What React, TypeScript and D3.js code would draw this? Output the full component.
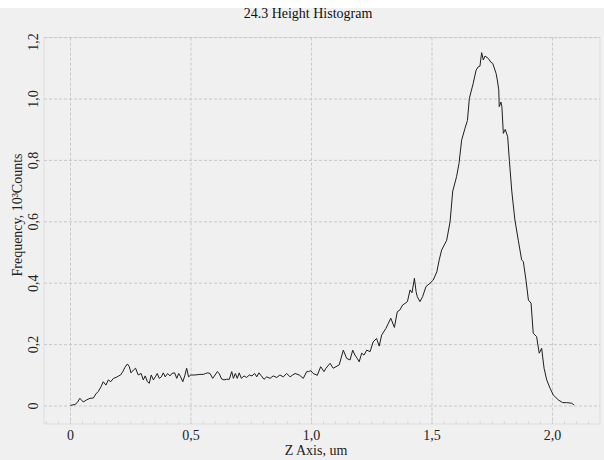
import React from "react";
import * as d3 from "d3";

const zValues: number[] = [
  0.0, 0.019, 0.028, 0.039, 0.053, 0.067, 0.081, 0.095, 0.105, 0.115, 0.127, 0.136, 0.147, 0.157, 0.167, 0.178,
  0.189, 0.2, 0.208, 0.217, 0.226, 0.236, 0.244, 0.251, 0.261, 0.27, 0.281, 0.293, 0.302, 0.31, 0.319, 0.327,
  0.335, 0.344, 0.352, 0.36, 0.368, 0.377, 0.385, 0.393, 0.403, 0.413, 0.421, 0.432, 0.441, 0.449, 0.457, 0.466,
  0.474, 0.482, 0.49, 0.499, 0.517, 0.537, 0.551, 0.561, 0.569, 0.579, 0.59, 0.6, 0.609, 0.617, 0.627, 0.637,
  0.648, 0.659, 0.669, 0.676, 0.684, 0.692, 0.7, 0.709, 0.72, 0.731, 0.742, 0.753, 0.764, 0.773, 0.782, 0.792,
  0.803, 0.814, 0.828, 0.841, 0.856, 0.869, 0.883, 0.897, 0.911, 0.922, 0.932, 0.949, 0.966, 0.98, 0.987, 0.997,
  1.007, 1.024, 1.038, 1.052, 1.06, 1.077, 1.09, 1.115, 1.132, 1.146, 1.16, 1.171, 1.18, 1.19, 1.198, 1.208,
  1.218, 1.229, 1.243, 1.256, 1.27, 1.281, 1.291, 1.309, 1.329, 1.344, 1.356, 1.367, 1.378, 1.388, 1.398, 1.409,
  1.417, 1.427, 1.434, 1.439, 1.45, 1.461, 1.475, 1.492, 1.505, 1.52, 1.53, 1.54, 1.561, 1.575, 1.586, 1.602,
  1.612, 1.623, 1.637, 1.647, 1.655, 1.671, 1.683, 1.692, 1.699, 1.706, 1.713, 1.72, 1.734, 1.744, 1.752, 1.766,
  1.771, 1.777, 1.779, 1.786, 1.79, 1.796, 1.804, 1.814, 1.821, 1.831, 1.844, 1.858, 1.872, 1.879, 1.89, 1.9,
  1.911, 1.92, 1.934, 1.945, 1.955, 1.965, 1.976, 1.99, 2.003, 2.024, 2.042, 2.058, 2.08, 2.09,
];

const frequency: number[] = [
  0.002, 0.005, 0.011, 0.025, 0.013, 0.02, 0.025, 0.026, 0.039, 0.047, 0.063, 0.079, 0.068, 0.085, 0.079, 0.09,
  0.093, 0.098, 0.101, 0.112, 0.126, 0.137, 0.128, 0.108, 0.117, 0.123, 0.101, 0.106, 0.085, 0.098, 0.079, 0.074,
  0.101, 0.085, 0.095, 0.106, 0.09, 0.095, 0.108, 0.095, 0.106, 0.098, 0.106, 0.108, 0.09, 0.106, 0.095, 0.079,
  0.098, 0.123, 0.095, 0.101, 0.101, 0.103, 0.103, 0.106, 0.108, 0.106, 0.09, 0.101, 0.112, 0.106, 0.088, 0.085,
  0.087, 0.087, 0.112, 0.09, 0.106, 0.09, 0.108, 0.09, 0.098, 0.093, 0.101, 0.098, 0.106, 0.095, 0.108, 0.098,
  0.087, 0.095, 0.09, 0.098, 0.093, 0.101, 0.095, 0.106, 0.095, 0.101, 0.106, 0.101, 0.09, 0.112, 0.112, 0.115,
  0.106, 0.1, 0.128, 0.112, 0.123, 0.139, 0.123, 0.134, 0.182, 0.155, 0.15, 0.182, 0.166, 0.155, 0.144, 0.172,
  0.166, 0.182, 0.177, 0.209, 0.22, 0.195, 0.231, 0.253, 0.286, 0.256, 0.307, 0.313, 0.329, 0.334, 0.34, 0.378,
  0.369, 0.416, 0.372, 0.356, 0.34, 0.356, 0.389, 0.4, 0.41, 0.437, 0.476, 0.508, 0.54, 0.6, 0.7, 0.747,
  0.79, 0.866, 0.905, 0.93, 1.002, 1.051, 1.094, 1.105, 1.107, 1.151, 1.127, 1.14, 1.132, 1.12, 1.116, 1.083,
  1.062, 1.03, 0.975, 0.99, 0.975, 0.888, 0.901, 0.877, 0.8, 0.7, 0.606, 0.54, 0.476, 0.47, 0.41, 0.345,
  0.335, 0.237, 0.226, 0.172, 0.188, 0.123, 0.085, 0.058, 0.036, 0.02, 0.011, 0.011, 0.009, 0.003,
];

const xTicks: number[] = [0, 0.5, 1.0, 1.5, 2.0];
const xTickLabels: string[] = ["0", "0,5", "1,0", "1,5", "2,0"];
const yTicks: number[] = [0, 0.2, 0.4, 0.6, 0.8, 1.0, 1.2];
const yTickLabels: string[] = ["0", "0,2", "0,4", "0,6", "0,8", "1,0", "1,2"];

const title = "24.3 Height Histogram";
const xTitle = "Z Axis, um";
const yTitle = "Frequency, 10³Counts";

export default function App() {
  const W = 604;
  const H = 460;
  const x = d3.scaleLinear().domain([0, 2]).range([70.5, 552.5]);
  const y = d3.scaleLinear().domain([0, 1.2]).range([406, 37.6]);
  const left = 44;
  const right = 600;
  const top = y(1.2);
  const bottom = 424;

  const pts: [number, number][] = zValues.map((z, i) => [z, frequency[i]]);
  const line = d3
    .line<[number, number]>()
    .x((d) => x(d[0]))
    .y((d) => y(d[1]));

  const minorX = d3.range(-0.1, 2.2001, 0.05).filter((v) => x(v) > left && x(v) < right);
  const font = "'Liberation Serif', 'Times New Roman', serif";

  return (
    <svg
      width={W}
      height={H}
      style={{ position: "absolute", left: 0, top: 0, background: "#fff" }}
      fontFamily={font}
    >
      <rect x={0} y={8} width={W} height={H - 8} fill="#f0f0f0" />
      <rect
        x={left}
        y={top}
        width={right - left}
        height={bottom - top}
        fill="none"
        stroke="#dedede"
        strokeWidth={1}
      />
      {minorX.map((v, i) => (
        <line key={"mx" + i} x1={x(v)} x2={x(v)} y1={bottom} y2={bottom - 3} stroke="#d8d8d8" />
      ))}
      {yTicks.map((v, i) => (
        <line
          key={"gy" + i}
          x1={left}
          x2={right}
          y1={y(v)}
          y2={y(v)}
          stroke="#c8c8c8"
          strokeDasharray="3,2"
          strokeWidth={1}
        />
      ))}
      {xTicks.map((v, i) => (
        <line
          key={"gx" + i}
          x1={x(v)}
          x2={x(v)}
          y1={top}
          y2={bottom}
          stroke="#c8c8c8"
          strokeDasharray="3,2"
          strokeWidth={1}
        />
      ))}
      <path d={line(pts) || ""} fill="none" stroke="#1e1e1e" strokeWidth={1} strokeLinejoin="round" />
      {xTicks.map((v, i) => (
        <text key={"tx" + i} x={x(v)} y={440} textAnchor="middle" fontSize={14} fill="#222">
          {xTickLabels[i]}
        </text>
      ))}
      {yTicks.map((v, i) => {
        const cy = i === yTicks.length - 1 ? y(v) + 4.5 : y(v);
        return (
          <text
            key={"ty" + i}
            transform={`translate(38,${cy}) rotate(-90)`}
            textAnchor="middle"
            fontSize={14}
            fill="#222"
          >
            {yTickLabels[i]}
          </text>
        );
      })}
      <text x={308} y={18} textAnchor="middle" fontSize={14} fill="#111">
        {title}
      </text>
      <text x={316} y={455} textAnchor="middle" fontSize={14} fill="#222">
        {xTitle}
      </text>
      <text transform="translate(22,215) rotate(-90)" textAnchor="middle" fontSize={14} fill="#222">
        {yTitle}
      </text>
    </svg>
  );
}
